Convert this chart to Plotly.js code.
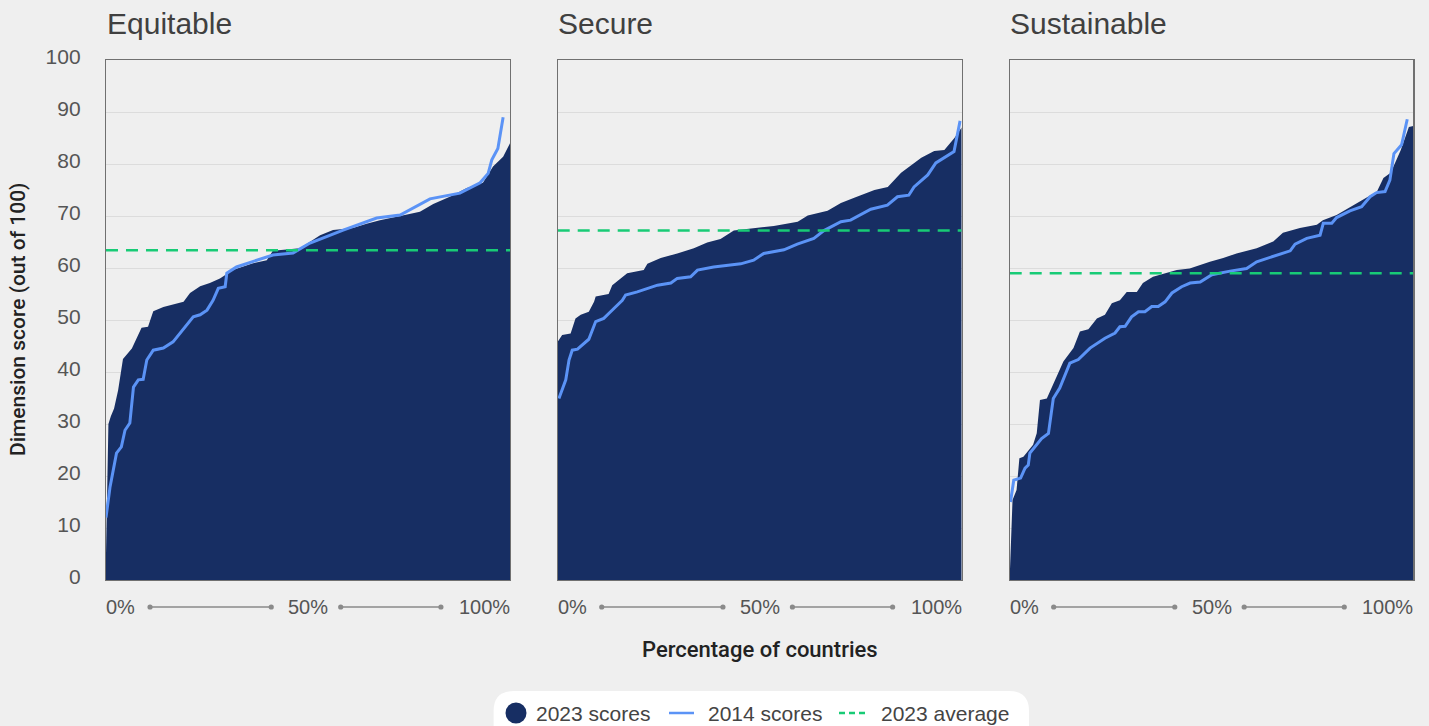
<!DOCTYPE html>
<html>
<head>
<meta charset="utf-8">
<script src="https://cdn.plot.ly/plotly-3.0.1.min.js"></script>
<style>
  html, body { margin: 0; padding: 0; background: #efefef; }
  #chart { width: 1429px; height: 726px; }
</style>
</head>
<body>
<div id="chart"></div>
<script>
// ---------- DATA ----------
const panelTitles = ["Equitable", "Secure", "Sustainable"];
const yTickVals = [0, 10, 20, 30, 40, 50, 60, 70, 80, 90, 100];
const xTickLabels = ["0%", "50%", "100%"];
const legendLabels = ["2023 scores", "2014 scores", "2023 average"];

// Equitable
const eq2023X = [0, 0.6, 1.2, 2, 3, 4.2, 6.4, 7.5, 8.8, 10.4, 11.7, 14.2, 19.2, 20.8, 23.3, 25.7, 28.2, 31.4, 36.4, 39.8, 41.3, 48, 53, 56.2, 61.1, 64.5, 67.8, 72.8, 77.7, 81, 85.1, 89.3, 93.3, 95.8, 98.3, 100];
const eq2023Y = [5, 30, 31.5, 33, 36.5, 42.5, 44.5, 46.5, 48.5, 48.7, 51.7, 52.5, 53.5, 55.2, 56.5, 57.1, 58, 59.6, 60.9, 61.5, 63.3, 63.8, 66.3, 67.3, 67.7, 68.5, 69.2, 70, 70.8, 72.3, 73.7, 75.4, 76.4, 79.5, 81.4, 84];
const eq2014X = [0, 1, 2.6, 3.8, 4.7, 5.9, 6.8, 8, 9.2, 10.1, 11.7, 14.2, 16.6, 18.3, 21.6, 23.3, 25, 26.5, 27.8, 29.5, 29.9, 32.3, 37.3, 41.3, 46.3, 50.5, 58.7, 67, 72.8, 80.2, 87.6, 92.6, 94.6, 95.5, 97, 98.3];
const eq2014Y = [12, 17.9, 24.4, 25.6, 28.8, 30.2, 37.1, 38.5, 38.6, 42.3, 44.2, 44.6, 45.8, 47.4, 50.6, 51, 51.9, 53.8, 56.1, 56.4, 59, 60.2, 61.4, 62.5, 62.9, 64.8, 67.3, 69.6, 70.2, 73.3, 74.4, 76.4, 78.2, 80.8, 83, 89];
const eqAvg2023 = 63.4;

// Secure
const se2023X = [0, 1.1, 3.2, 4.4, 5.7, 7.7, 9, 9.4, 12.6, 13.5, 17.2, 21.3, 22.2, 25.5, 29.6, 33.7, 37, 40.3, 43.6, 48.6, 53.5, 59.4, 61.9, 66.8, 70.1, 73.4, 78.4, 81.7, 85, 90, 93.2, 95.7, 98.2, 100];
const se2023Y = [45.8, 47.1, 47.4, 50.3, 51, 51.6, 53.5, 54.5, 55, 56.7, 59, 59.6, 60.8, 61.9, 62.8, 63.8, 64.9, 65.6, 67.2, 67.7, 68.1, 68.9, 70.1, 71, 72.5, 73.5, 75, 75.6, 78.3, 81.2, 82.5, 82.7, 85, 87];
const se2014X = [0.3, 2, 2.8, 3.6, 4.9, 7.7, 9.4, 11.4, 12.7, 14.3, 16, 16.8, 19.7, 24.7, 28, 29.6, 32.9, 34.6, 38.6, 45.3, 48.5, 51, 56, 59.3, 63.4, 65.9, 70.1, 72.5, 77.5, 81.6, 84.1, 86.9, 88.2, 91.6, 93.6, 98.1, 99.6];
const se2014Y = [34.9, 38.5, 42.3, 44.2, 44.4, 46.3, 49.7, 50.3, 51.3, 52.6, 53.8, 54.8, 55.4, 56.7, 57.1, 58, 58.3, 59.6, 60.2, 60.8, 61.5, 62.8, 63.5, 64.6, 65.7, 67.2, 68.9, 69.2, 71.3, 72.1, 73.7, 74, 75.6, 77.9, 80.2, 82.4, 88.3];
const seAvg2023 = 67.2;

// Sustainable
const su2023X = [0, 0.7, 1.7, 2.4, 3.4, 5.8, 6.7, 7.5, 9.2, 11.6, 13.3, 15.8, 17.4, 19.5, 21.6, 23.6, 25.3, 27.3, 29, 31.5, 33, 35.5, 41.4, 44.6, 49.6, 52.9, 56.2, 61.2, 65.3, 67.7, 71.9, 76.1, 77.6, 81, 85.1, 88.5, 91, 92.6, 94.4, 96.9, 98.9, 100];
const su2023Y = [0.5, 15.4, 17.3, 23.4, 23.7, 26, 28.2, 34.6, 34.9, 39.1, 42, 44.6, 47.8, 48.2, 50.3, 51, 53.2, 53.8, 55.4, 55.4, 57.1, 58.3, 59.6, 59.9, 61.2, 61.9, 62.8, 63.8, 65.1, 66.8, 67.7, 68.3, 69.2, 70.2, 72, 73.5, 74.7, 77.3, 78.3, 82.7, 87.1, 87.3];
const su2014X = [0.2, 1, 2.7, 3.8, 4.6, 5, 7.9, 9.6, 10.8, 12.4, 14.9, 17, 19.9, 23.6, 26.1, 27.3, 28.6, 30.2, 31.9, 33.5, 35.2, 36.8, 38.5, 40.2, 42.6, 44.7, 47.2, 50.1, 54.6, 58.7, 61.2, 65.3, 69.5, 70.7, 73.6, 76.9, 77.7, 79.8, 81, 84.3, 87.2, 89.3, 90.9, 93, 94.2, 95.2, 97.1, 98.5];
const su2014Y = [15, 19.2, 19.6, 21.5, 22.1, 24.4, 27.2, 28.2, 34.9, 36.9, 41.7, 42.4, 44.6, 46.5, 47.5, 48.7, 48.8, 50.6, 51.6, 51.6, 52.6, 52.6, 53.5, 55.2, 56.4, 57.1, 57.3, 58.7, 59.4, 59.9, 61.2, 62.2, 63.3, 64.6, 65.7, 66.3, 68.6, 68.6, 69.7, 71, 71.8, 73.7, 74.5, 74.7, 76.9, 82, 83.7, 88.6];
const suAvg2023 = 59.0;

// ---------- STYLE ----------
const W = 1429, H = 726;
const NAVY = "#172e63", BLUE = "#5b93f6", GREEN = "#18cb76";
const BG = "#efefef", GRID = "#dcdcdc", FRAME = "#707070";
const FONT = "Liberation Sans, Arial, sans-serif";
const TITLE_FONT = "Roboto, Liberation Sans, sans-serif";

const panels = [
  { x23: eq2023X, y23: eq2023Y, x14: eq2014X, y14: eq2014Y, avg: eqAvg2023, dom: [106, 510] },
  { x23: se2023X, y23: se2023Y, x14: se2014X, y14: se2014Y, avg: seAvg2023, dom: [557.7, 961.7] },
  { x23: su2023X, y23: su2023Y, x14: su2014X, y14: su2014Y, avg: suAvg2023, dom: [1009.7, 1413.3] }
];
const yDom = [1 - 580 / H, 1 - 60 / H];
const px = v => v / W;
const py = v => 1 - v / H;

const traces = [];
const layout = {
  width: W, height: H,
  margin: { l: 0, r: 0, t: 0, b: 0 },
  paper_bgcolor: BG, plot_bgcolor: BG,
  showlegend: false,
  font: { family: FONT, color: "#555" },
  shapes: [], annotations: []
};

panels.forEach((p, i) => {
  const s = i === 0 ? "" : String(i + 1);
  const xa = "x" + s, ya = "y" + s;
  traces.push({
    x: p.x23, y: p.y23, xaxis: xa, yaxis: ya, type: "scatter", mode: "lines",
    fill: "tozeroy", fillcolor: NAVY, line: { color: NAVY, width: 0 }, hoverinfo: "skip"
  });
  traces.push({
    x: p.x14, y: p.y14, xaxis: xa, yaxis: ya, type: "scatter", mode: "lines",
    line: { color: BLUE, width: 3 }, hoverinfo: "skip"
  });
  traces.push({
    x: [0, 100], y: [p.avg, p.avg], xaxis: xa, yaxis: ya, type: "scatter", mode: "lines",
    line: { color: GREEN, width: 2.5, dash: "12px,8px" }, hoverinfo: "skip"
  });

  layout["xaxis" + s] = {
    domain: [px(p.dom[0]), px(p.dom[1])], anchor: ya, range: [0, 100],
    showgrid: false, zeroline: false, showticklabels: false, ticks: "",
    showline: true, mirror: true, linecolor: FRAME, linewidth: 1.2, fixedrange: true
  };
  layout["yaxis" + s] = {
    domain: yDom, anchor: xa, range: [0, 100], tickvals: yTickVals,
    showgrid: true, gridcolor: GRID, gridwidth: 1, zeroline: false,
    showticklabels: i === 0, ticks: "", ticklabelstandoff: 20, ticklabelshift: -3,
    tickfont: { family: FONT, size: 21, color: "#555" },
    showline: true, mirror: true, linecolor: FRAME, linewidth: 1.2, fixedrange: true
  };

  // panel title
  layout.annotations.push({
    xref: "paper", yref: "paper", x: px(p.dom[0]) - 0.001, y: py(23),
    xanchor: "left", yanchor: "middle", showarrow: false,
    text: panelTitles[i], font: { family: FONT, size: 30, color: "#404040" }
  });
  // x tick labels
  const labY = py(607);
  [["left", 0], ["center", 50], ["right", 100]].forEach((a, k) => {
    layout.annotations.push({
      xref: xa, yref: "paper", x: a[1], y: labY, xanchor: a[0], yanchor: "middle",
      showarrow: false, text: xTickLabels[k], xshift: k === 0 ? -2 : (k === 2 ? 2 : 0),
      font: { family: FONT, size: 20, color: "#555" }
    });
  });
  // decorative connectors
  [[10.9, 40.9], [58.1, 82.9]].forEach(seg => {
    layout.shapes.push({
      type: "line", xref: xa, yref: "paper", x0: seg[0], x1: seg[1], y0: labY, y1: labY,
      line: { color: "#8a8a8a", width: 1.3 }
    });
    seg.forEach(xv => layout.shapes.push({
      type: "circle", xref: xa, yref: "paper", xsizemode: "pixel", ysizemode: "pixel",
      xanchor: xv, yanchor: labY, x0: -2.6, x1: 2.6, y0: -2.6, y1: 2.6,
      fillcolor: "#8a8a8a", line: { width: 0 }
    }));
  });
});

// axis titles
layout.annotations.push({
  xref: "paper", yref: "paper", x: px(18), y: py(320), xanchor: "center", yanchor: "middle",
  textangle: -90, showarrow: false, text: "Dimension score (out of 100)",
  font: { family: TITLE_FONT, size: 21, weight: 500, color: "#222" }
});
layout.annotations.push({
  xref: "paper", yref: "paper", x: px(760), y: py(649), xanchor: "center", yanchor: "middle",
  showarrow: false, text: "Percentage of countries",
  font: { family: TITLE_FONT, size: 22, weight: 500, color: "#222" }
});

// legend (pill box with keys)
const bx0 = px(493.6), bx1 = px(1029), byT = py(691), byB = py(760);
const rx = 20 / W, ry = 20 / H;
layout.shapes.push({
  type: "path", xref: "paper", yref: "paper", layer: "below",
  path: `M ${bx0},${byB} L ${bx0},${byT - ry} Q ${bx0},${byT} ${bx0 + rx},${byT} L ${bx1 - rx},${byT} Q ${bx1},${byT} ${bx1},${byT - ry} L ${bx1},${byB} Z`,
  fillcolor: "#ffffff", line: { width: 0 }
});
const legY = py(713);
layout.shapes.push({
  type: "circle", xref: "paper", yref: "paper", xsizemode: "pixel", ysizemode: "pixel",
  xanchor: px(516), yanchor: legY, x0: -10.5, x1: 10.5, y0: -10.5, y1: 10.5,
  fillcolor: NAVY, line: { width: 0 }
});
layout.shapes.push({
  type: "line", xref: "paper", yref: "paper", x0: px(669), x1: px(694), y0: legY, y1: legY,
  line: { color: BLUE, width: 2.5 }
});
layout.shapes.push({
  type: "line", xref: "paper", yref: "paper", x0: px(839), x1: px(868), y0: legY, y1: legY,
  line: { color: GREEN, width: 2.5, dash: "6px,4px" }
});
[[534, 0], [706, 1], [879, 2]].forEach(a => {
  layout.annotations.push({
    xref: "paper", yref: "paper", x: px(a[0]), y: legY, xanchor: "left", yanchor: "middle",
    showarrow: false, text: legendLabels[a[1]], font: { family: FONT, size: 21, color: "#444" }
  });
});

Plotly.newPlot("chart", traces, layout, { staticPlot: true, displayModeBar: false });
</script>
</body>
</html>
